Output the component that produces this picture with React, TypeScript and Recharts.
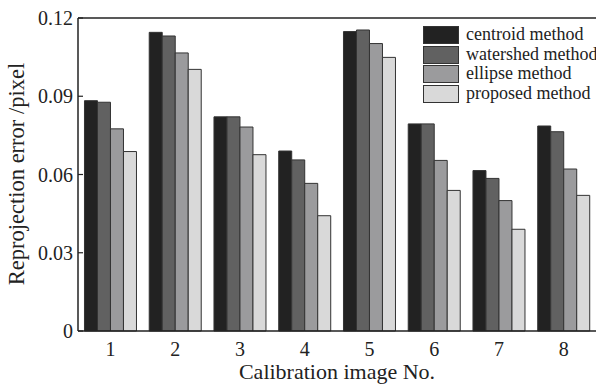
import React from "react";
import { BarChart, Bar, XAxis, YAxis, ReferenceLine } from "recharts";

const IMAGES = ["1", "2", "3", "4", "5", "6", "7", "8"];
const CENTROID = [0.0883, 0.1145, 0.0821, 0.069, 0.1148, 0.0794, 0.0615, 0.0786];
const WATERSHED = [0.0877, 0.1131, 0.0821, 0.0656, 0.1154, 0.0794, 0.0585, 0.0764];
const ELLIPSE = [0.0775, 0.1066, 0.0782, 0.0566, 0.1102, 0.0654, 0.05, 0.0621];
const PROPOSED = [0.0688, 0.1003, 0.0676, 0.0442, 0.1049, 0.0539, 0.039, 0.052];
const Y_TICKS = [0, 0.03, 0.06, 0.09, 0.12];

const SERIES = [
  { key: "centroid", name: "centroid method", color: "#222222" },
  { key: "watershed", name: "watershed method", color: "#616161" },
  { key: "ellipse", name: "ellipse method", color: "#9b9b9d" },
  { key: "proposed", name: "proposed method", color: "#d9d9d9" },
];

const data = IMAGES.map((img, i) => ({
  img,
  centroid: CENTROID[i],
  watershed: WATERSHED[i],
  ellipse: ELLIPSE[i],
  proposed: PROPOSED[i],
}));

const FONT = "'Liberation Serif', 'Times New Roman', serif";
const INK = "#222";

const fmt = (v: number) => (v === 0 ? "0" : v.toFixed(2));

// y ticks point inward, labels on the left
const YTick = (props: any) => {
  const { y, payload } = props;
  return (
    <g>
      <line x1={78} x2={83} y1={y} y2={y} stroke={INK} strokeWidth={1.2} />
      <text x={73} y={y} dy={7} textAnchor="end" fontFamily={FONT} fontSize={20} fill={INK}>
        {fmt(payload.value)}
      </text>
    </g>
  );
};

// legend drawn as an overlay so it doesn't eat into the plot area
const LegendBox = () => (
  <div
    style={{
      position: "absolute",
      top: 25,
      left: 423,
      fontFamily: FONT,
      fontSize: 18,
      color: INK,
      lineHeight: "19.7px",
      whiteSpace: "nowrap",
    }}
  >
    {SERIES.map((s) => (
      <div key={s.key} style={{ display: "flex", alignItems: "center", height: 19.7 }}>
        <span
          style={{
            display: "inline-block",
            width: 34,
            height: 16,
            background: s.color,
            border: "1px solid #333",
            marginRight: 7,
          }}
        />
        <span>{s.name}</span>
      </div>
    ))}
  </div>
);

export default function App() {
  return (
    <div style={{ position: "absolute", left: 0, top: 0, width: 596, height: 384, background: "#fff" }}>
      <BarChart
        width={596}
        height={384}
        data={data}
        margin={{ top: 18, right: 0, bottom: 0, left: 0 }}
        barCategoryGap="10%"
        barGap={0}
      >
        <XAxis
          dataKey="img"
          height={53}
          tickLine={false}
          axisLine={{ stroke: INK, strokeWidth: 1.5 }}
          tick={{ fontFamily: FONT, fontSize: 20, fill: INK }}
          tickMargin={5}
          label={{
            content: () => (
              <text x={337} y={379} textAnchor="middle" fontFamily={FONT} fontSize={22} fill={INK}>
                Calibration image No.
              </text>
            ),
          }}
        />
        <YAxis
          width={78}
          domain={[0, 0.12]}
          ticks={Y_TICKS}
          interval={0}
          tickLine={false}
          axisLine={{ stroke: INK, strokeWidth: 1.5 }}
          tick={<YTick />}
          label={{
            content: () => (
              <text
                x={24}
                y={174}
                transform="rotate(-90 24 174)"
                textAnchor="middle"
                fontFamily={FONT}
                fontSize={22.5}
                fill={INK}
              >
                Reprojection error /pixel
              </text>
            ),
          }}
        />
        <ReferenceLine y={0.12} stroke={INK} strokeWidth={1.5} />
        {SERIES.map((s) => (
          <Bar
            key={s.key}
            dataKey={s.key}
            name={s.name}
            fill={s.color}
            stroke="#333"
            strokeWidth={1}
            isAnimationActive={false}
          />
        ))}
      </BarChart>
      <LegendBox />
    </div>
  );
}
